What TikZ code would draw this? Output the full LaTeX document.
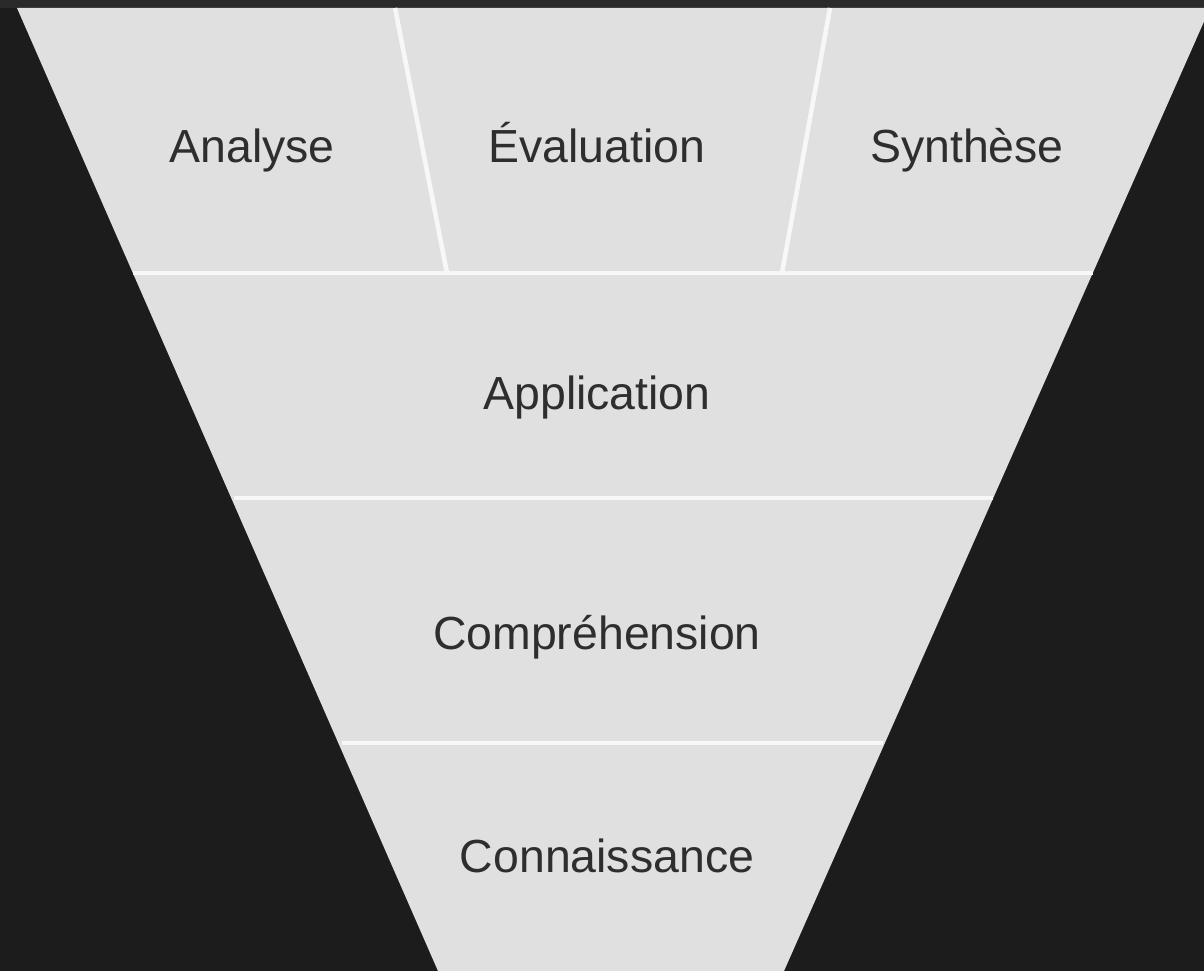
\documentclass[tikz,border=0pt]{standalone}
\usepackage{fontspec}
\setmainfont{Liberation Sans}
\usepackage{tikz}
\usetikzlibrary{positioning}
\definecolor{bgdark}{HTML}{1C1C1C}
\definecolor{stripgray}{HTML}{2A2A2A}
\definecolor{funnelgray}{HTML}{E0E0E0}
\definecolor{sepwhite}{HTML}{F7F7F7}
\definecolor{textgray}{HTML}{2E2E2E}

\begin{document}
\begin{tikzpicture}[
x=0.01cm, y=-0.01cm,
levelnode/.style={anchor=base, inner sep=0pt, text=textgray, font=\fontsize{13.2}{15}\selectfont},
sepline/.style={draw=sepwhite, line width=1.3pt}
]
    \useasboundingbox (0,0) rectangle (1204,971);
    \clip (0,0) rectangle (1204,971);

    %Background
    \fill[bgdark] (0,0) rectangle (1204,971);
    \fill[stripgray] (0,0) rectangle (1204,8);

    %Funnel
    \coordinate (tl) at (17,8);
    \coordinate (tr) at (1210,8);
    \coordinate (bl) at (438,971);
    \coordinate (br) at (784,971);
    \fill[funnelgray] (tl) -- (tr) -- (br) -- (bl) -- cycle;

    %Lines
    \coordinate (s1l) at (133,273);
    \coordinate (s1r) at (1093,273);
    \coordinate (s2l) at (234,498);
    \coordinate (s2r) at (993,498);
    \coordinate (s3l) at (342,743);
    \coordinate (s3r) at (883,743);
    \coordinate (d1t) at (395,8);
    \coordinate (d1b) at (447,273);
    \coordinate (d2t) at (830,8);
    \coordinate (d2b) at (782,273);
    \draw[sepline] (s1l) -- (s1r);
    \draw[sepline] (s2l) -- (s2r);
    \draw[sepline] (s3l) -- (s3r);
    \draw[sepline] (d1t) -- (d1b);
    \draw[sepline] (d2t) -- (d2b);

    %Nodes
    \node[levelnode] (ana) at (252,163) {Analyse};
    \node[levelnode] (eva) at (597,163) {Évaluation};
    \node[levelnode] (syn) at (967,163) {Synthèse};
    \node[levelnode] (app) at (597,410) {Application};
    \node[levelnode] (com) at (597,650) {Compréhension};
    \node[levelnode] (con) at (607,872) {Connaissance};
\end{tikzpicture}
\end{document}
